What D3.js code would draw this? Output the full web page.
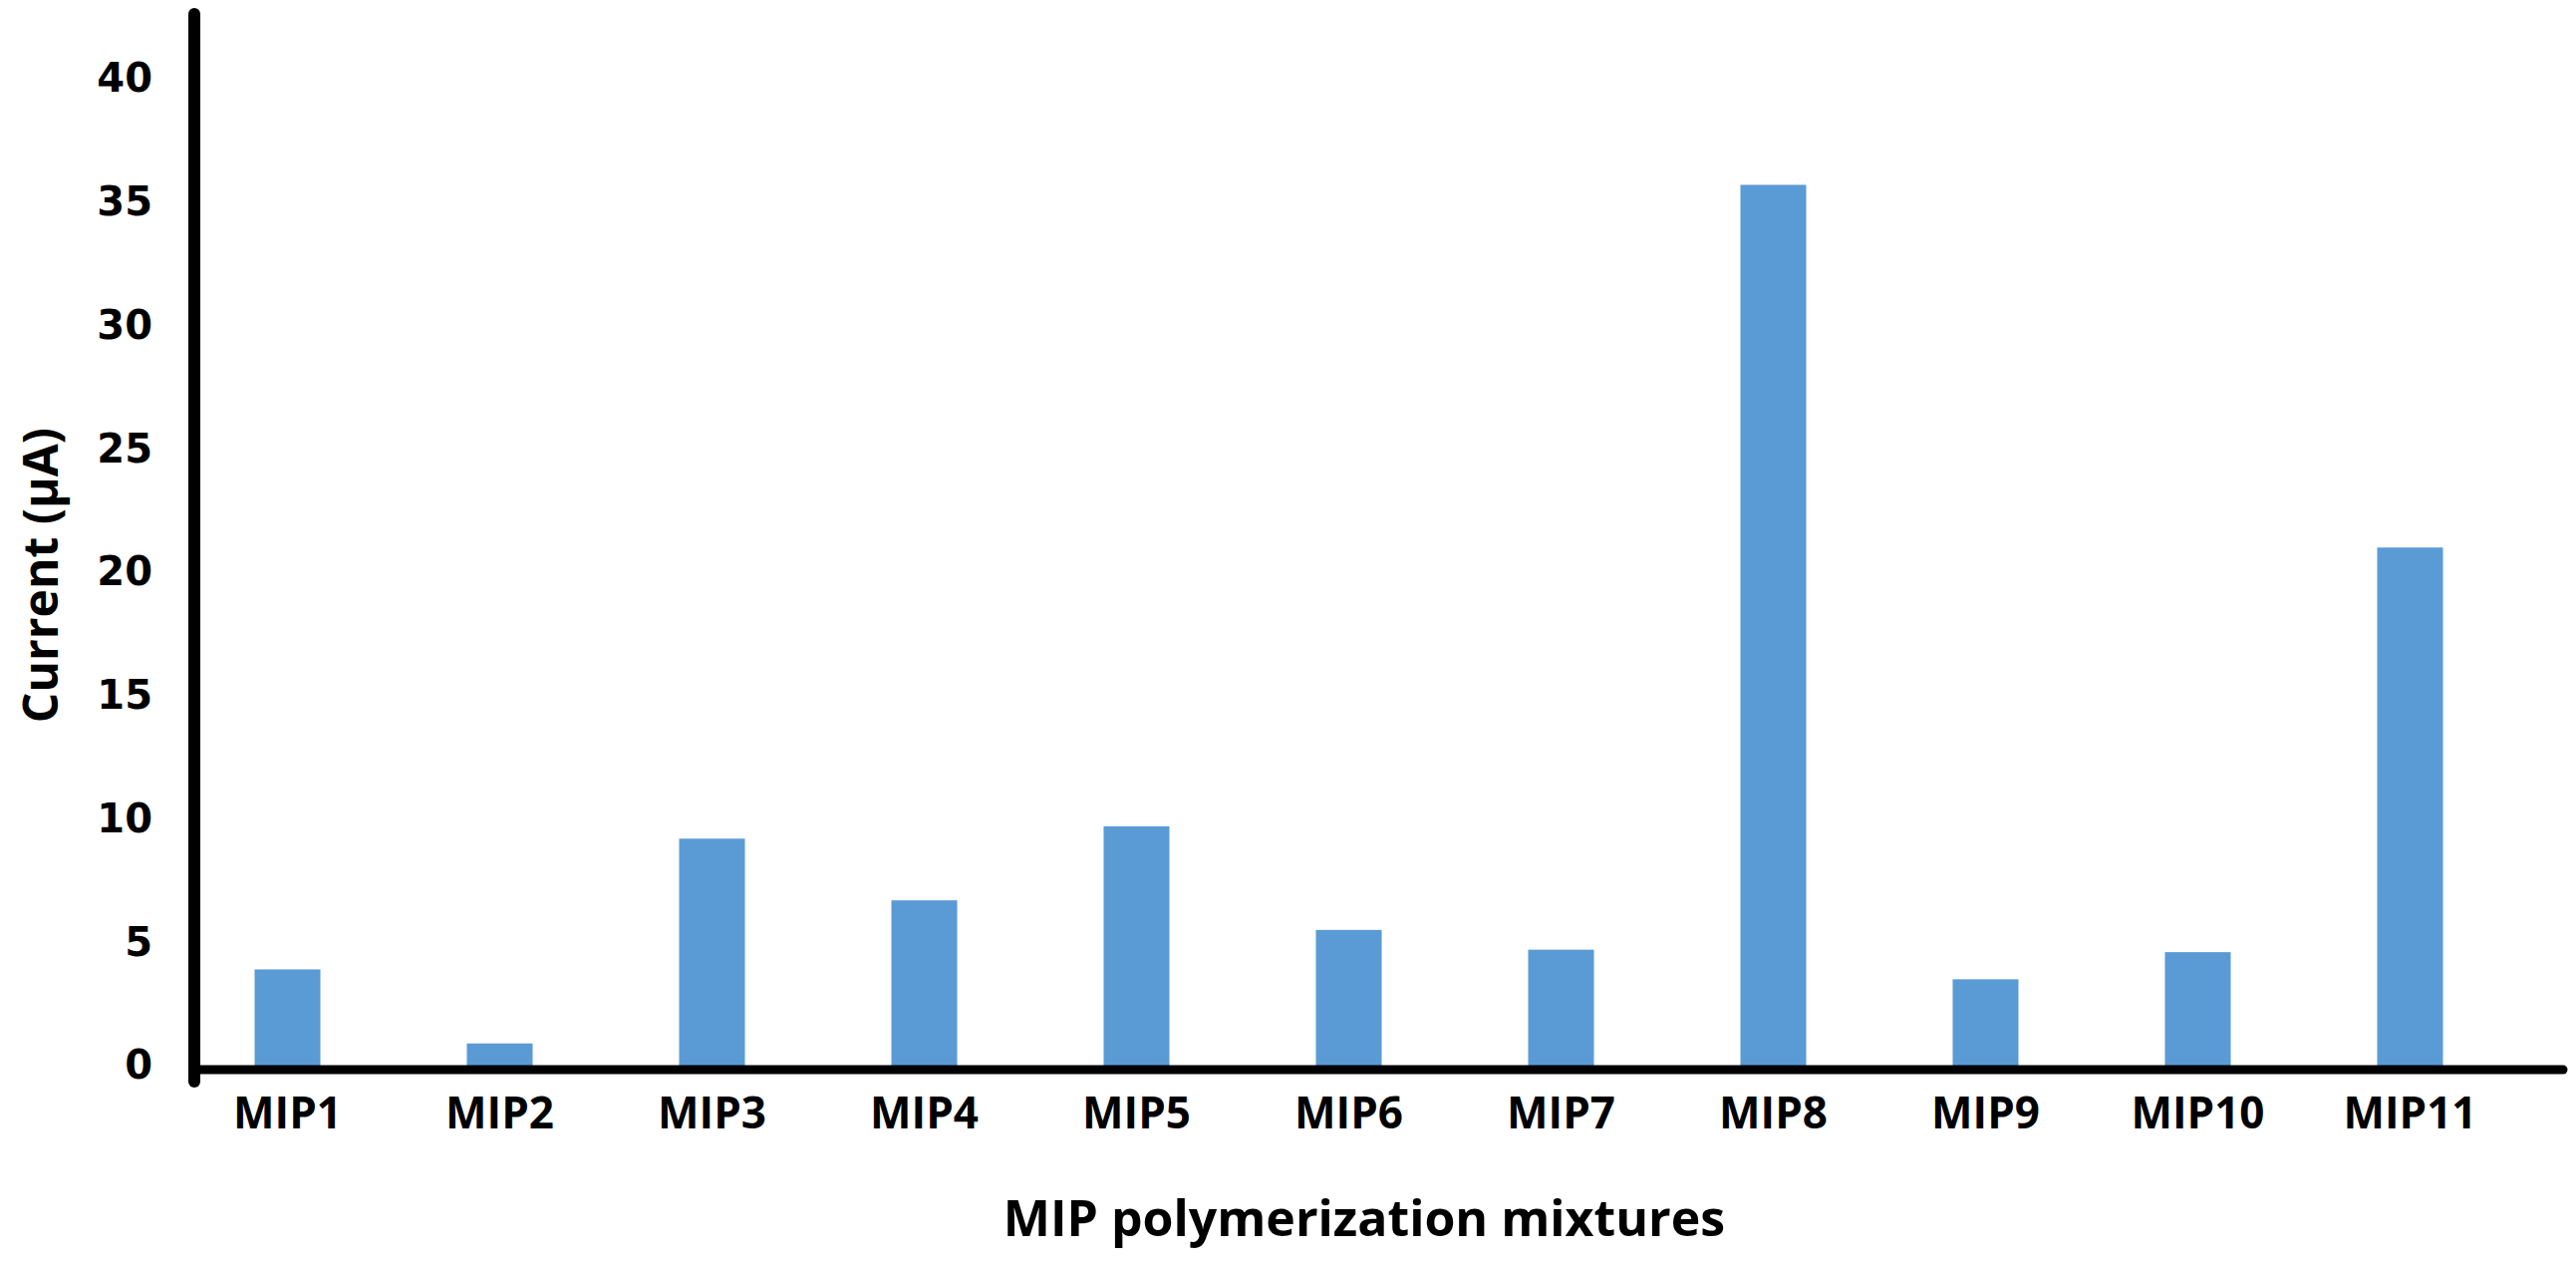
<!DOCTYPE html>
<html>
<head>
<meta charset="utf-8">
<script src="https://cdn.jsdelivr.net/npm/d3@7"></script>
<style>
  body { margin: 0; background: #fff; }
  svg { display: block; }
</style>
</head>
<body>
<svg id="chart" width="2585" height="1270"></svg>
<script>
// Datos
const categories = ["MIP1", "MIP2", "MIP3", "MIP4", "MIP5", "MIP6", "MIP7", "MIP8", "MIP9", "MIP10", "MIP11"];
const values = [3.9, 0.9, 9.2, 6.7, 9.7, 5.5, 4.7, 35.7, 3.5, 4.6, 21.0];
const yTicks = [0, 5, 10, 15, 20, 25, 30, 35, 40];

const svg = d3.select("#chart");

const x = d3.scaleBand()
    .domain(categories)
    .range([182, 2525])
    .paddingInner(0.69)
    .paddingOuter(0.345);

const y = d3.scaleLinear()
    .domain([0, 40])
    .range([1069, 79]);

// Barras
svg.append("g")
    .selectAll("rect")
    .data(values)
    .join("rect")
    .attr("x", (d, i) => x(categories[i]))
    .attr("width", x.bandwidth())
    .attr("y", d => y(d))
    .attr("height", d => y(0) - y(d))
    .attr("fill", "#5b9bd5");

// Eje Y
const yAxis = svg.append("g")
    .attr("transform", "translate(195,0)")
    .call(d3.axisLeft(y).tickValues(yTicks).tickSize(0).tickPadding(42));
yAxis.select(".domain").remove();
yAxis.selectAll("text")
    .attr("font-family", "DejaVu Sans")
    .attr("font-weight", "bold")
    .attr("font-size", 40)
    .attr("fill", "#000");

svg.append("line")
    .attr("x1", 195).attr("x2", 195)
    .attr("y1", 14).attr("y2", 1085)
    .attr("stroke", "#000").attr("stroke-width", 12).attr("stroke-linecap", "round");

// Eje X
svg.append("line")
    .attr("x1", 195).attr("x2", 2572)
    .attr("y1", 1073).attr("y2", 1073)
    .attr("stroke", "#000").attr("stroke-width", 9).attr("stroke-linecap", "round");

const xAxis = svg.append("g")
    .attr("transform", "translate(0,1073)")
    .call(d3.axisBottom(x).tickSize(0).tickPadding(28));
xAxis.select(".domain").remove();
xAxis.selectAll("text")
    .attr("font-family", "Open Sans")
    .attr("font-weight", "bold")
    .attr("font-size", 44)
    .attr("fill", "#000");

// Titulos
svg.append("text")
    .attr("x", 1369).attr("y", 1240)
    .attr("text-anchor", "middle")
    .attr("font-family", "Open Sans")
    .attr("font-weight", "bold")
    .attr("font-size", 50)
    .text("MIP polymerization mixtures");

svg.append("text")
    .attr("transform", "translate(58,577) rotate(-90)")
    .attr("text-anchor", "middle")
    .attr("font-family", "Open Sans")
    .attr("font-weight", "bold")
    .attr("font-size", 48)
    .text("Current (µA)");
</script>
</body>
</html>
